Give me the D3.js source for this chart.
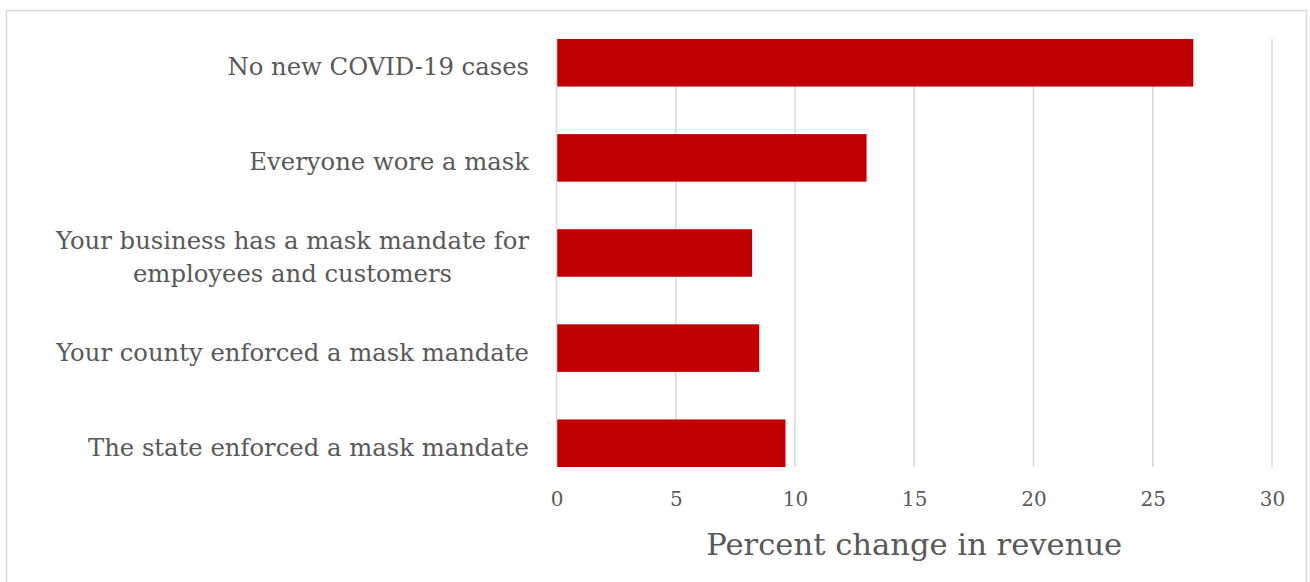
<!DOCTYPE html>
<html>
<head>
<meta charset="utf-8">
<script src="https://cdn.jsdelivr.net/npm/d3@7"></script>
<style>
  html, body { margin: 0; padding: 0; background: #ffffff; }
  svg { display: block; }
  text { font-family: "DejaVu Serif", "Liberation Serif", serif; fill: #595959; }
</style>
</head>
<body>
<svg id="chart" width="1310" height="582"></svg>
<script>
// ---- data ----
const categories = [
  "No new COVID-19 cases",
  "Everyone wore a mask",
  "Your business has a mask mandate for\nemployees and customers",
  "Your county enforced a mask mandate",
  "The state enforced a mask mandate"
];
const values = [26.7, 13.0, 8.2, 8.5, 9.6];
const xTicks = [0, 5, 10, 15, 20, 25, 30];
const xTitle = "Percent change in revenue";

// ---- layout ----
const plot = { left: 556.5, right: 1272, top: 39, bottom: 467 };
const svg = d3.select("#chart");

// outer frame
svg.append("rect")
  .attr("x", 6.5).attr("y", 10.5)
  .attr("width", 1300).attr("height", 620)
  .attr("fill", "none").attr("stroke", "#d9d9d9").attr("stroke-width", 1.5);

const x = d3.scaleLinear().domain([0, 30]).range([plot.left, plot.right]);
const y = d3.scaleBand().domain(categories).range([plot.top, plot.bottom])
  .paddingInner(0.5).paddingOuter(0);

// gridlines
svg.append("g").selectAll("line").data(xTicks).join("line")
  .attr("x1", d => x(d)).attr("x2", d => x(d))
  .attr("y1", plot.top).attr("y2", plot.bottom)
  .attr("stroke", "#d9d9d9").attr("stroke-width", 1.5);

// bars
svg.append("g").selectAll("rect").data(categories).join("rect")
  .attr("x", x(0) + 0.75)
  .attr("y", d => y(d))
  .attr("width", (d, i) => x(values[i]) - x(0) - 0.75)
  .attr("height", y.bandwidth())
  .attr("fill", "#c00000");

// x axis tick labels
const xAxis = d3.axisBottom(x).tickValues(xTicks).tickSize(0).tickPadding(0)
  .tickFormat(d3.format("d"));
const gx = svg.append("g").attr("transform", `translate(0,${plot.bottom})`).call(xAxis);
gx.select(".domain").remove();
gx.selectAll("text")
  .attr("y", 39).attr("dy", null)
  .style("font-family", '"DejaVu Serif", serif')
  .style("font-size", "20px").attr("fill", "#595959");

// category labels
const labelSize = 24.3, lineH = 33.6, labelRight = 529;
const lab = svg.append("g");
categories.forEach(c => {
  const lines = c.split("\n");
  const cy = y(c) + y.bandwidth() / 2;
  const t = lab.append("text")
    .style("font-size", labelSize + "px");
  lines.forEach((ln, i) => {
    t.append("tspan").text(ln)
      .attr("y", cy + 12.5 - (lines.length - 1) * lineH / 2 + i * lineH);
  });
  if (lines.length === 1) {
    t.attr("text-anchor", "end").selectAll("tspan").attr("x", labelRight);
  } else {
    let maxW = 0;
    t.selectAll("tspan").each(function () {
      maxW = Math.max(maxW, this.getComputedTextLength());
    });
    t.attr("text-anchor", "middle").selectAll("tspan").attr("x", labelRight - maxW / 2);
  }
});

// axis title
svg.append("text")
  .attr("x", (plot.left + plot.right) / 2)
  .attr("y", 555)
  .attr("text-anchor", "middle")
  .style("font-size", "30.6px")
  .text(xTitle);
</script>
</body>
</html>
